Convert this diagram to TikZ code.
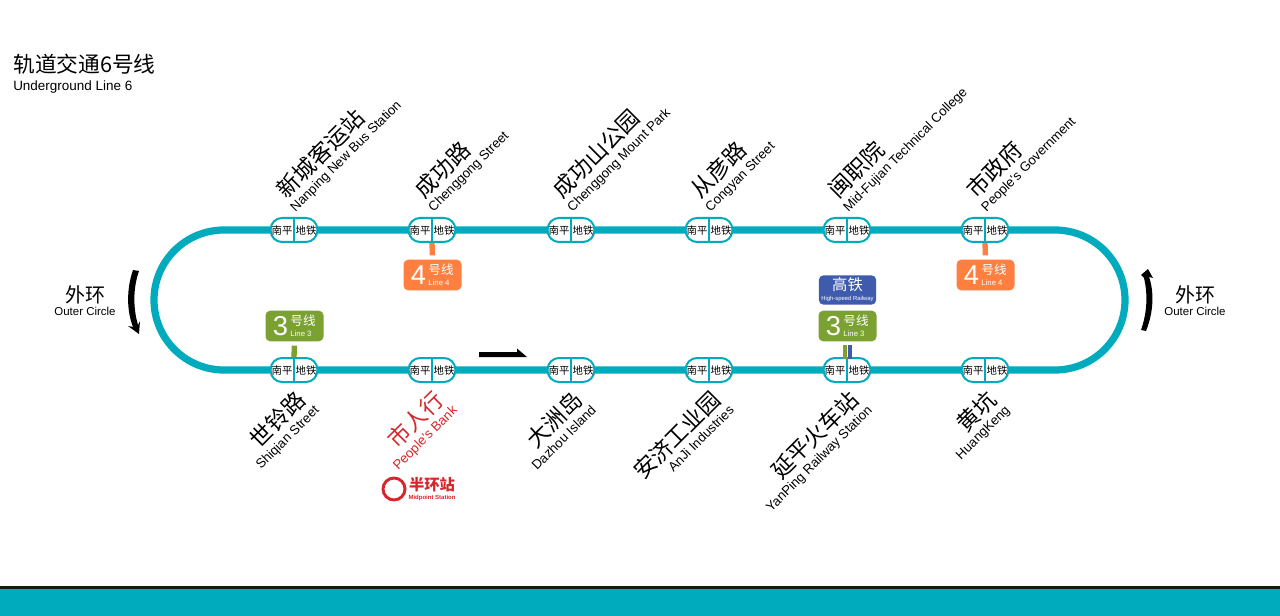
\documentclass[tikz,border=0pt]{standalone}
\usepackage{fontspec}
\setmainfont{Liberation Sans}
\newfontfamily\cjk{Noto Sans CJK SC}
\definecolor{teal1}{HTML}{00ABBD}
\definecolor{org}{HTML}{FF7F41}
\definecolor{grn}{HTML}{7AA131}
\definecolor{blu}{HTML}{3F5BAE}
\definecolor{redt}{HTML}{D7262B}
\newcommand{\fs}[1]{\fontsize{#1}{#1}\selectfont}
\tikzset{
 x=0.75pt,y=-0.75pt,
 track/.style={draw=teal1,line width=5.4pt},
 capsule/.style={draw=teal1,fill=white,line width=1.5pt,rounded corners=8.5pt,minimum width=35pt,minimum height=18pt,inner sep=0pt},
 badge/.style={rounded corners=3.5pt,minimum width=43.5pt,minimum height=23pt,inner sep=0pt,text=white},
 stub/.style={line width=4pt,shorten >=3pt},
 cnT/.style={rotate=45,anchor=south west,inner sep=0pt,font=\cjk\fs{16.8}},
 enT/.style={rotate=45,anchor=south west,inner sep=0pt,font=\fs{9.9}},
 cnB/.style={rotate=45,anchor=south east,inner sep=0pt,font=\cjk\fs{16.8}},
 enB/.style={rotate=45,anchor=north east,inner sep=0pt,font=\fs{9.9}},
}
\newcommand{\stn}[3]{%
 \node[capsule] (#1) at (#2,#3) {};
 \draw[teal1,line width=1.1pt] (#1.north) -- (#1.south);
 \node[inner sep=0pt,font=\cjk\fs{7.8}] (#1a) at (#2-12,#3+0.8) {南平};
 \node[inner sep=0pt,font=\cjk\fs{7.8}] (#1b) at (#2+12,#3+0.8) {地铁};
}
\newcommand{\lineBadge}[6]{% name, x, y, colour, num, en
 \node[badge,fill=#4] (#1) at (#2,#3) {};
 \node[text=white,inner sep=0pt,font=\fs{20.5}] (#1n) at (#2-14,#3) {#5};
 \node[text=white,inner sep=0pt,font=\cjk\fs{9.4}] (#1c) at (#2+8.5,#3-5) {号线};
 \node[text=white,inner sep=0pt,font=\fs{5.8}] (#1e) at (#2+6.5,#3+7.5) {#6};
}
\begin{document}
\begin{tikzpicture}
\useasboundingbox (0,0) rectangle (1280,616);
\fill[white] (0,0) rectangle (1280,616);
\fill[teal1] (0,588) rectangle (1280,616);
\fill[black!90] (0,586) rectangle (1280,588.5);
% title
\node[anchor=west,inner sep=0pt,font=\cjk\fs{16.3}] (title) at (13,64) {轨道交通6号线};
\node[anchor=west,inner sep=0pt,font=\fs{10.1}] (titleen) at (13,87.5) {Underground Line 6};
% track
\draw[track] (224,230) -- (1055,230) arc[start angle=-90,end angle=90,radius=70] -- (224,370) arc[start angle=90,end angle=270,radius=70] -- cycle;
% stations
\stn{s1}{294}{230}\stn{s2}{432}{230}\stn{s3}{571}{230}\stn{s4}{709}{230}\stn{s5}{847}{230}\stn{s6}{985}{230}
\stn{t1}{294}{370}\stn{t2}{432}{370}\stn{t3}{571}{370}\stn{t4}{709}{370}\stn{t5}{847}{370}\stn{t6}{985}{370}
% badges
\lineBadge{b4a}{432.5}{275}{org}{4}{Line 4}
\lineBadge{b4b}{985.5}{275}{org}{4}{Line 4}
\lineBadge{b3a}{294.5}{326}{grn}{3}{Line 3}
\lineBadge{b3b}{847.5}{326}{grn}{3}{Line 3}
\node[badge,fill=blu,minimum width=43pt,minimum height=22pt] (hs) at (847.5,290) {};
\node[text=white,inner sep=0pt,font=\cjk\fs{11.5}] (hsc) at (847.5,284.5) {高铁};
\node[text=white,inner sep=0pt,font=\fs{4.4}] (hse) at (847.5,298.5) {High-speed Railway};
\draw[org,stub] (s2.south) -- (b4a.north);
\draw[org,stub] (s6.south) -- (b4b.north);
\draw[grn,stub] (t1.north) -- (b3a.south);
\coordinate (gA) at (845,358.5); \coordinate (gB) at (845,345);
\coordinate (bA) at (850,358.5); \coordinate (bB) at (850,345);
\draw[grn,line width=3.6pt] (gA) -- (gB);
\draw[blu,line width=3.6pt] (bA) -- (bB);
% top labels
\node[cnT] (c1) at (288,201) {新城客运站};
\node[enT] (e1) at (297.5,214.5) {Nanping New Bus Station};
\node[cnT] (c2) at (426,201) {成功路};
\node[enT] (e2) at (435.5,214.5) {Chenggong Street};
\node[cnT] (c3) at (564,201) {成功山公园};
\node[enT] (e3) at (574.5,214.5) {Chenggong Mount Park};
\node[cnT] (c4) at (702,201) {从彦路};
\node[enT] (e4) at (712.5,214.5) {Congyan Street};
\node[cnT] (c5) at (840,201) {闽职院};
\node[enT] (e5) at (850.5,214.5) {Mid-Fujian Technical College};
\node[cnT] (c6) at (978,201) {市政府};
\node[enT] (e6) at (988.5,214.5) {People's Government};
% bottom labels
\node[cnB] (d1) at (309,403) {世铃路};
\node[enB] (f1) at (313,404) {Shiqian Street};
\node[cnB,text=redt] (d2) at (447,403) {市人行};
\node[enB,text=redt] (f2) at (451,404) {People's Bank};
\node[cnB] (d3) at (586,403) {大洲岛};
\node[enB] (f3) at (590,404) {Dazhou Island};
\node[cnB] (d4) at (724,403) {安济工业园};
\node[enB] (f4) at (728,404) {AnJi Industries};
\node[cnB] (d5) at (862,403) {延平火车站};
\node[enB] (f5) at (866,404) {YanPing Railway Station};
\node[cnB] (d6) at (1000,403) {黄坑};
\node[enB] (f6) at (1004,404) {HuangKeng};
% midpoint
\node[circle,draw=redt,line width=2.2pt,minimum size=16.5pt,inner sep=0pt] (mid) at (394,489) {};
\node[inner sep=0pt,text=redt,font=\cjk\bfseries\fs{11.5}] (midc) at (432,485) {半环站};
\node[inner sep=0pt,text=redt,font=\bfseries\fs{4.5}] (mide) at (432,497.5) {Midpoint Station};
% direction arrow
\fill[black] (479,352) -- (517,352) -- (517,348.5) -- (527,357) -- (479,357) -- cycle;
% outer circle
\node[inner sep=0pt,font=\cjk\fs{15}] (lc) at (85,295) {外环};
\node[inner sep=0pt,font=\fs{8.6}] (le) at (85,311) {Outer Circle};
\node[inner sep=0pt,font=\cjk\fs{15}] (rc) at (1195,295) {外环};
\node[inner sep=0pt,font=\fs{8.6}] (re) at (1195,311) {Outer Circle};
\fill[black] (133,270) .. controls (126,290) and (127,312) .. (133,327) -- (128,326) -- (139,334) -- (140,321) -- (138,325) .. controls (133,308) and (133,288) .. (139,271) -- cycle;
\fill[black] (1146,331) .. controls (1154,311) and (1154,291) .. (1149,277) -- (1153,278) -- (1148,269) -- (1141,275) -- (1144,278) .. controls (1148,295) and (1147,313) .. (1141,330) -- cycle;
\end{tikzpicture}
\end{document}
